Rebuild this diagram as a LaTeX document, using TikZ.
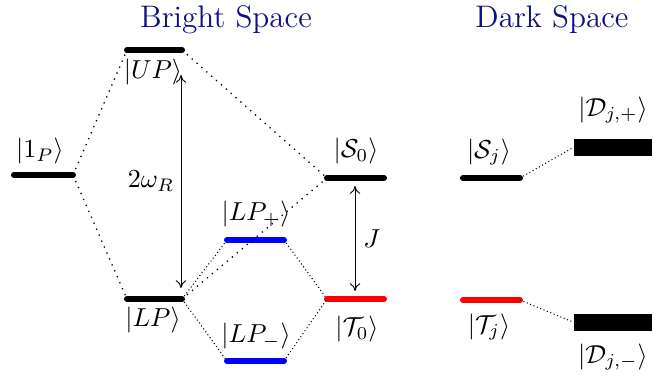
\documentclass[tikz,border=0pt]{standalone}
\usetikzlibrary{arrows.meta}
\definecolor{titleblue}{RGB}{16,16,130}
\begin{document}
\begin{tikzpicture}[x=0.385pt,y=-0.385pt,
  level/.style={line width=2.3pt,line cap=round},
  blk/.style={level,black},
  redlvl/.style={level,red},
  bluelvl/.style={level,blue},
  dark/.style={fill=black},
  loose/.style={dotted,line width=0.5pt},
  dense/.style={densely dotted,line width=0.4pt},
  gap/.style={<->,>={To[length=3pt,width=4pt]},line width=0.35pt},
  lbl/.style={inner sep=0pt,font=\normalsize},
  ttl/.style={text=titleblue,font=\large,inner sep=0pt}]
\useasboundingbox (0,0) rectangle (670,376);
% titles
\node[ttl] (tb) at (226,20) {Bright Space};
\node[ttl] (td) at (552,20) {Dark Space};
% level endpoints
\coordinate (Pl) at (14,175);   \coordinate (Pr) at (73,175);
\coordinate (Ul) at (127,50);   \coordinate (Ur) at (182,50);
\coordinate (Ll) at (127,299);  \coordinate (Lr) at (182,299);
\coordinate (Apl) at (227,240); \coordinate (Apr) at (284,240);
\coordinate (Aml) at (227,361); \coordinate (Amr) at (284,361);
\coordinate (Sl) at (327,178);  \coordinate (Sr) at (384,178);
\coordinate (Tl) at (327,299);  \coordinate (Tr) at (384,299);
\coordinate (Sjl) at (463,178); \coordinate (Sjr) at (520,178);
\coordinate (Tjl) at (463,300); \coordinate (Tjr) at (520,300);
\coordinate (Dpl) at (573,147.5);
\coordinate (Dml) at (573,322);
% levels
\draw[blk] (Pl) -- (Pr);
\draw[blk] (Ul) -- (Ur);
\draw[blk] (Ll) -- (Lr);
\draw[bluelvl] (Apl) -- (Apr);
\draw[bluelvl] (Aml) -- (Amr);
\draw[blk] (Sl) -- (Sr);
\draw[redlvl] (Tl) -- (Tr);
\draw[blk] (Sjl) -- (Sjr);
\draw[redlvl] (Tjl) -- (Tjr);
\node[dark,minimum width=78*0.385pt,minimum height=17*0.385pt,inner sep=0pt,anchor=west] (Dp) at (Dpl) {};
\node[dark,minimum width=78*0.385pt,minimum height=17*0.385pt,inner sep=0pt,anchor=west] (Dm) at (Dml) {};
% labels
\node[lbl] (lP) at (40,151) {$|1_P\rangle$};
\node[lbl] (lU) at (153,72) {$|UP\rangle$};
\node[lbl] (lL) at (153,320) {$|LP\rangle$};
\node[lbl] (lAp) at (256,214) {$|LP_+\rangle$};
\node[lbl] (lAm) at (256,336) {$|LP_-\rangle$};
\node[lbl] (lS) at (356,151) {$|\mathcal{S}_0\rangle$};
\node[lbl] (lT) at (357,329) {$|\mathcal{T}_0\rangle$};
\node[lbl] (lSj) at (489,152) {$|\mathcal{S}_j\rangle$};
\node[lbl] (lTj) at (489,327) {$|\mathcal{T}_j\rangle$};
\node[lbl] (lDp) at (613,110) {$|\mathcal{D}_{j,+}\rangle$};
\node[lbl] (lDm) at (613,357) {$|\mathcal{D}_{j,-}\rangle$};
% couplings
\draw[loose] (Pr) -- (Ul);
\draw[loose] (Pr) -- (Ll);
\draw[loose] (Ur) -- (Sl);
\draw[loose] (Lr) -- (Sl);
\draw[dense] (Lr) -- (Apl);
\draw[dense] (Lr) -- (Aml);
\draw[dense] (Apr) -- (Tl);
\draw[dense] (Amr) -- (Tl);
\draw[dense] (Sjr) -- (Dp.west);
\draw[dense] (Tjr) -- (Dm.west);
% gaps
\coordinate (a1) at (181,75); \coordinate (a2) at (181,288);
\draw[gap] (a1) -- node[lbl,left=2.5pt] (lw) {$2\omega_R$} (a2);
\coordinate (b1) at (355,186); \coordinate (b2) at (355,291);
\draw[gap] (b1) -- node[lbl,right=3pt] (lJ) {$J$} (b2);
\end{tikzpicture}
\end{document}
